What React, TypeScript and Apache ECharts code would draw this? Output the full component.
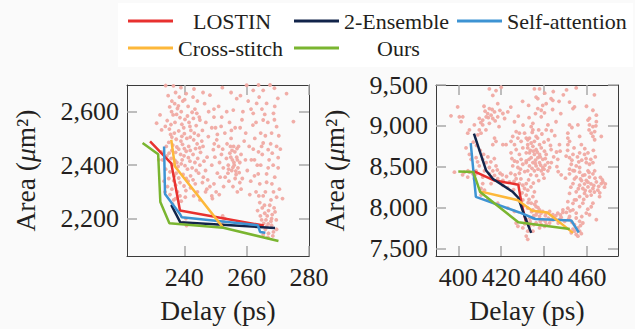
import React, { useEffect, useRef } from "react";
import * as echarts from "echarts";

const seriesNames = ["LOSTIN", "2-Ensemble", "Self-attention", "Cross-stitch", "Ours"];
const seriesColors = ["#e8312f", "#12244a", "#3d93d3", "#fdb83a", "#7ab530"];

// Left panel
const leftXTicks = [240, 260, 280];
const leftYTicks = [2200, 2400, 2600];
const leftLines: number[][][] = [
  [[229.0, 2489], [235.8, 2407], [238.6, 2230], [265.5, 2174]],
  [[235.8, 2251], [238.7, 2186], [269.1, 2165]],
  [[233.5, 2470], [233.8, 2292], [238.7, 2215], [239.2, 2205], [263.6, 2175], [264.3, 2150], [266.0, 2147]],
  [[235.8, 2495], [237.0, 2395], [252.3, 2168]],
  [[226.6, 2483], [231.6, 2441], [232.3, 2262], [235.2, 2183], [252.5, 2166], [270.2, 2116]],
];
const leftScatter: number[][] = [
  [234.0, 2698], [236.5, 2697], [237.2, 2672], [238.4, 2655], [239.5, 2640], [236.0, 2640], [240.6, 2668], [235.3, 2618],
  [237.8, 2612], [239.0, 2600], [241.2, 2620], [242.5, 2598], [244.0, 2594], [236.4, 2588], [238.6, 2578], [240.2, 2571],
  [232.2, 2588], [234.5, 2567], [237.0, 2560], [239.2, 2553], [241.5, 2560], [243.8, 2548], [245.0, 2569], [231.1, 2557],
  [232.7, 2532], [235.2, 2535], [236.8, 2520], [238.2, 2528], [240.0, 2518], [242.1, 2530], [244.5, 2512], [236.0, 2505],
  [237.4, 2497], [238.9, 2490], [240.8, 2500], [243.0, 2495], [245.6, 2490], [235.0, 2485], [236.3, 2475], [237.6, 2468],
  [239.4, 2478], [241.4, 2470], [243.6, 2462], [236.0, 2455], [237.2, 2448], [238.8, 2440], [240.6, 2452], [242.8, 2440],
  [245.2, 2448], [234.4, 2435], [235.8, 2425], [237.0, 2418], [239.3, 2420], [241.8, 2415], [244.3, 2425], [236.3, 2402],
  [238.0, 2395], [240.2, 2398], [242.5, 2390], [245.0, 2400], [234.0, 2385], [235.4, 2375], [237.4, 2370], [239.6, 2365],
  [242.0, 2360], [244.6, 2370], [235.0, 2350], [236.6, 2342], [238.6, 2335], [241.2, 2340], [243.5, 2330], [234.6, 2320],
  [236.0, 2310], [237.8, 2300], [240.5, 2305], [235.4, 2290], [237.2, 2275], [239.0, 2265], [236.2, 2255], [233.0, 2420],
  [232.6, 2450],
  [248.2, 2662], [246.5, 2630], [247.8, 2600], [249.5, 2580], [251.0, 2620], [253.6, 2600], [255.7, 2606], [256.8, 2649],
  [260.0, 2699], [258.5, 2570], [247.7, 2507], [250.4, 2495], [249.3, 2458], [246.0, 2470], [247.3, 2430], [248.8, 2400],
  [246.8, 2380], [247.5, 2345], [249.5, 2330], [251.5, 2355], [252.5, 2390], [253.5, 2425], [252.3, 2460], [253.0, 2520],
  [251.8, 2545], [254.5, 2560], [256.3, 2540], [255.0, 2500], [255.8, 2470], [256.2, 2450], [256.8, 2430], [255.4, 2420],
  [256.0, 2400], [257.2, 2390], [255.2, 2380], [256.6, 2365], [257.8, 2410], [254.6, 2445], [257.4, 2470], [258.2, 2440],
  [254.3, 2340], [255.6, 2320], [257.0, 2300], [258.6, 2350], [259.2, 2490], [259.7, 2520], [251.2, 2290], [249.0, 2275],
  [252.3, 2210], [252.4, 2190], [252.2, 2175], [253.0, 2200],
  [262.1, 2680], [265.3, 2680], [266.4, 2631], [263.2, 2631], [262.1, 2594], [265.3, 2569], [268.6, 2594], [269.6, 2544],
  [268.0, 2520], [264.5, 2520], [265.3, 2483], [266.9, 2458], [269.6, 2470], [270.1, 2428], [268.5, 2400], [270.1, 2390],
  [266.4, 2367], [263.7, 2367], [264.2, 2330], [266.4, 2336], [268.6, 2300], [265.3, 2285], [264.2, 2260], [267.4, 2250],
  [269.1, 2225], [265.8, 2220], [268.0, 2200], [264.8, 2195], [266.9, 2180], [269.6, 2160], [268.6, 2150], [266.4, 2170],
  [265.3, 2140], [267.0, 2145], [263.5, 2230], [262.6, 2500], [263.8, 2450], [261.5, 2420], [262.0, 2550], [267.5, 2700],
  [270.0, 2650], [263.0, 2300], [261.3, 2340], [270.3, 2510], [269.0, 2355], [264.5, 2400],
  [271.5, 2275], [272.8, 2668], [275.0, 2563], [240.7, 2174], [239.6, 2185], [240.5, 2200], [231.8, 2420], [233.5, 2340],
  [233.8, 2300], [266.0, 2160], [268.0, 2175],
  [234.8, 2660], [236.9, 2630], [238.1, 2622], [240.1, 2645], [242.8, 2655], [243.4, 2610], [235.9, 2600], [237.5, 2590],
  [241.0, 2584], [242.9, 2575], [244.8, 2580], [233.9, 2545], [235.7, 2552], [239.8, 2540], [241.8, 2545], [243.2, 2520],
  [245.8, 2530], [235.6, 2515], [239.2, 2508], [241.9, 2505], [244.1, 2480], [234.2, 2470], [238.2, 2460], [240.0, 2462],
  [241.9, 2455], [244.9, 2465], [235.1, 2445], [239.9, 2435], [241.3, 2428], [243.4, 2410], [246.3, 2415], [237.6, 2410],
  [239.0, 2405], [241.0, 2385], [243.8, 2380], [236.8, 2360], [238.2, 2352], [240.6, 2350], [242.8, 2345], [237.2, 2325],
  [239.9, 2322], [242.0, 2315], [238.6, 2285], [240.3, 2280], [236.6, 2270], [254.8, 2470], [255.3, 2455], [256.9, 2462],
  [254.9, 2430], [255.9, 2410], [257.0, 2420], [254.1, 2400], [255.6, 2392], [256.5, 2378], [257.6, 2372], [254.0, 2370],
  [253.1, 2355], [256.3, 2350], [264.9, 2610], [266.8, 2560], [263.0, 2560], [267.7, 2480], [265.0, 2440], [267.2, 2420],
  [266.0, 2300], [267.8, 2270], [265.0, 2240], [266.6, 2210], [268.8, 2240], [266.2, 2195], [250.0, 2540], [249.8, 2430],
  [251.3, 2410], [250.6, 2370], [248.2, 2320], [246.8, 2300], [249.5, 2610], [252.0, 2580], [258.8, 2600], [260.8, 2470],
  [260.2, 2380], [261.0, 2290], [260.5, 2640], [262.5, 2420],
  [238.9, 2690], [243.1, 2685], [246.0, 2672], [252.2, 2690], [255.0, 2672], [258.0, 2660], [263.8, 2700], [268.9, 2688],
  [264.0, 2655], [269.0, 2620], [261.4, 2610], [244.2, 2640], [246.9, 2560], [248.8, 2540], [250.6, 2515], [245.8, 2335],
  [247.2, 2310], [248.8, 2285], [250.2, 2300], [252.6, 2320], [246.1, 2355], [244.2, 2300], [243.0, 2285], [245.0, 2270],
  [265.7, 2250], [267.0, 2230], [264.4, 2210], [268.2, 2215], [265.5, 2182], [267.8, 2190], [269.5, 2195], [268.4, 2135],
  [266.8, 2130], [263.9, 2285], [269.6, 2280], [270.5, 2310], [268.1, 2330], [262.5, 2360], [266.9, 2390], [263.4, 2400],
  [264.8, 2470], [262.1, 2460], [268.2, 2445], [270.8, 2460], [266.0, 2510], [268.9, 2570], [265.8, 2590], [255.1, 2530],
  [257.9, 2540], [253.7, 2480], [251.0, 2470], [249.6, 2480], [251.9, 2440], [254.2, 2385], [257.8, 2335], [259.6, 2420],
  [258.2, 2310],
];

// Right panel
const rightXTicks = [400, 420, 440, 460];
const rightYTicks = [7500, 8000, 8500, 9000, 9500];
const rightLines: number[][][] = [
  [[407.2, 8445], [416.4, 8335], [428.0, 8280], [429.5, 8050], [431.5, 7830]],
  [[407.3, 8905], [413.0, 8453], [416.2, 8350], [425.5, 8190], [428.0, 8120], [431.0, 7890], [434.0, 7690]],
  [[405.8, 8788], [408.2, 8130], [428.5, 7940], [436.0, 7860], [452.7, 7843], [456.2, 7695]],
  [[410.6, 8195], [427.8, 8090], [434.5, 7960], [441.5, 7940], [453.5, 7690]],
  [[400.0, 8440], [407.0, 8436], [410.2, 8190], [428.0, 7820], [452.0, 7738]],
];
const rightScatter: number[][] = [
  [414.5, 9452], [417.6, 9432], [420.0, 9472], [416.1, 9372], [399.7, 9231], [396.6, 9123], [400.5, 9111], [402.1, 9111],
  [401.3, 9051], [414.5, 9211], [418.4, 9271], [413.7, 9150], [415.3, 9130], [416.9, 9171], [413.0, 9110], [416.1, 9090],
  [418.4, 9111], [420.8, 9151], [423.1, 9171], [411.4, 9071], [414.5, 9031], [409.8, 9091], [407.5, 9011], [411.4, 9011],
  [409.8, 8950], [410.6, 8910], [409.1, 8890], [412.9, 8950], [405.2, 8950], [404.4, 8910], [416.9, 8850], [417.6, 8810],
  [416.1, 8770], [420.8, 8770], [422.3, 8770],
  [427.0, 8930], [428.5, 8910], [427.8, 8850], [425.4, 8870], [424.6, 8810], [426.2, 8770], [429.3, 8810], [430.9, 8910],
  [431.7, 8850], [432.4, 8770], [430.1, 8730], [427.0, 8710], [424.6, 8670], [428.5, 8650], [431.7, 8670], [429.3, 8590],
  [426.2, 8570], [425.4, 8510], [430.1, 8530], [431.7, 8550], [427.8, 8490],
  [403.6, 8730], [405.2, 8650], [406.0, 8590], [408.3, 8610], [411.4, 8590], [413.0, 8550], [409.8, 8510], [414.5, 8490],
  [416.1, 8450], [417.6, 8510], [412.2, 8450], [408.3, 8450],
  [435.5, 9452], [437.9, 9452], [455.0, 9464], [436.3, 9352], [437.1, 9332], [443.3, 9332], [444.1, 9312], [441.0, 9271],
  [439.4, 9251], [437.1, 9211], [438.7, 9191], [440.2, 9159], [438.7, 9111], [451.9, 9291], [454.2, 9231], [453.5, 9211],
  [462.8, 9191], [464.4, 9131], [461.2, 9091], [460.5, 9071], [464.4, 9051], [461.2, 9011], [462.8, 8990], [463.6, 8930],
  [462.0, 8910], [462.8, 8870], [463.6, 8830], [466.7, 8870], [434.8, 9031], [434.0, 8990], [434.8, 8950], [441.8, 9011],
  [436.3, 8870], [433.2, 8850], [451.9, 9011], [455.8, 9011], [451.1, 8910], [451.1, 8850], [451.9, 8810], [451.1, 8770],
  [456.6, 8870], [457.4, 8770], [447.2, 8770], [460.5, 8670], [458.9, 8650], [456.6, 8670], [450.3, 8630], [451.9, 8610],
  [453.5, 8650], [459.7, 8550], [462.8, 8550], [461.2, 8530], [452.7, 8530], [455.0, 8510], [456.6, 8490], [451.9, 8470],
  [454.2, 8450], [460.5, 8450], [463.6, 8450],
  [432.4, 8830], [434.0, 8790], [435.5, 8810], [437.9, 8770], [434.8, 8750], [432.4, 8730], [436.3, 8710], [438.7, 8730],
  [440.2, 8690], [433.2, 8670], [435.5, 8650], [437.9, 8650], [441.0, 8650], [434.0, 8610], [437.1, 8610], [439.4, 8590],
  [431.7, 8570], [434.8, 8550], [437.9, 8550], [441.8, 8550], [433.2, 8510], [436.3, 8510], [439.4, 8490], [442.6, 8490],
  [432.4, 8450], [435.5, 8450], [438.7, 8450], [441.8, 8450], [446.4, 8590], [443.3, 8710],
  [398.2, 8433], [402.8, 8433], [404.4, 8373], [408.3, 8413], [411.4, 8373], [411.4, 8293], [410.6, 8233], [412.2, 8213],
  [414.5, 8413], [415.3, 8373], [416.9, 8393], [418.4, 8353], [420.8, 8333], [415.3, 8293], [420.8, 8273], [423.9, 8313],
  [427.0, 8353], [428.5, 8293], [430.1, 8273], [431.7, 8293], [430.9, 8233], [432.4, 8213], [433.9, 8253], [435.5, 8193],
  [431.7, 8153], [434.8, 8133], [430.1, 8093], [434.0, 8053], [436.3, 8073], [430.1, 8012], [432.4, 7992], [434.8, 7972],
  [436.3, 8012], [437.9, 7972], [439.4, 7952], [441.0, 7932], [442.6, 7952], [444.1, 7912], [446.4, 7932], [448.8, 7940],
  [436.3, 7912], [437.9, 7892], [434.8, 7872], [431.7, 7852], [439.4, 7852], [443.3, 7851], [442.6, 7811], [441.0, 7791],
  [436.3, 7811], [433.2, 7771], [437.9, 7751], [434.8, 7711], [427.0, 7811], [427.8, 7771], [430.1, 7751], [432.4, 7711],
  [431.7, 7651], [432.4, 7611],
  [448.8, 7972], [451.1, 7992], [453.5, 7972], [455.0, 7932], [451.9, 7892], [455.0, 7872], [456.6, 7832], [454.2, 7791],
  [455.8, 7751], [454.2, 7711], [452.7, 7691], [455.0, 7671], [456.6, 7711], [458.1, 7811], [459.7, 7932], [464.4, 7851],
  [461.2, 7912], [453.5, 8052], [451.1, 8072], [455.0, 8093], [456.6, 8133],
  [451.9, 8413], [453.5, 8453], [455.0, 8373], [456.6, 8433], [458.1, 8393], [459.7, 8333], [461.2, 8373], [462.8, 8413],
  [464.4, 8313], [466.7, 8293], [467.5, 8313], [453.5, 8293], [456.6, 8273], [458.1, 8233], [460.5, 8253], [462.8, 8233],
  [465.1, 8213], [455.0, 8193], [458.9, 8173], [462.0, 8153], [465.9, 8133], [451.9, 8173], [454.2, 8093], [458.1, 8053],
  [456.6, 8012], [462.8, 8053],
  [405.2, 8433], [406.8, 8413], [407.5, 8353], [410.6, 8153], [413.7, 8093], [418.4, 8053], [423.1, 7992], [426.2, 7952],
  [444.9, 7871], [447.2, 7851], [449.6, 7831], [438.7, 7792], [440.2, 7771], [453.5, 7736], [457.4, 7680], [455.8, 7650],
  [412.5, 9180], [414.0, 9100], [415.8, 9200], [417.2, 9060], [419.4, 9190], [412.0, 9240], [410.5, 9040], [419.0, 8990],
  [421.6, 9090], [433.6, 8700], [435.0, 8690], [436.8, 8680], [438.2, 8620], [440.6, 8600], [436.0, 8580], [433.0, 8590],
  [435.9, 8540], [438.4, 8520], [440.5, 8520], [434.4, 8480], [437.2, 8470], [440.0, 8470], [443.4, 8550], [444.5, 8620],
  [445.8, 8680], [443.0, 8760], [440.0, 8800], [437.0, 8850], [439.0, 8900], [442.0, 8830], [445.0, 8880], [447.5, 8690],
  [446.0, 8500], [457.5, 8330], [458.9, 8290], [460.5, 8310], [461.9, 8290], [463.2, 8270], [457.0, 8350], [459.2, 8210],
  [461.5, 8200], [463.8, 8360], [465.5, 8260], [466.3, 8370], [468.2, 8250], [456.0, 8230], [454.2, 8350], [452.5, 8250],
  [420.5, 8400], [422.5, 8380], [424.5, 8420], [426.5, 8400], [428.5, 8420], [423.0, 8240], [425.8, 8220], [433.0, 8100],
  [435.6, 8040], [437.2, 8000], [438.6, 7930], [440.6, 7900], [442.0, 7870], [445.5, 7900], [447.6, 7910], [450.4, 7940],
  [433.5, 7830], [435.2, 7790], [431.0, 7800], [461.8, 8590], [463.9, 8620], [459.0, 8720], [453.0, 8980], [461.0, 8950],
  [464.2, 9000], [459.8, 9240], [463.5, 9380], [450.5, 9440], [444.3, 9420], [440.3, 9400], [447.8, 9150], [445.6, 9050],
  [430.2, 9010], [426.2, 9050], [428.0, 9120], [424.5, 9230], [430.0, 9300], [432.8, 9250],
  [407.0, 8800], [408.5, 8760], [410.2, 8700], [411.8, 8650], [409.0, 8560], [415.2, 8560], [413.8, 8620], [416.8, 8600],
  [418.2, 8460], [419.5, 8420], [404.5, 8450], [402.0, 8400], [425.0, 8600], [427.5, 8560], [429.0, 8470], [431.0, 8440],
  [433.8, 8400], [436.5, 8390], [439.5, 8410], [426.0, 8320], [429.2, 8350], [432.8, 8340], [435.0, 8300], [437.5, 8330],
  [440.0, 8360], [429.8, 8180], [432.6, 8060], [434.2, 7950], [436.8, 7940], [435.2, 7900], [433.4, 7870], [438.2, 7830],
  [440.6, 7830], [444.2, 7850], [446.6, 7810], [448.0, 7880], [451.5, 7860], [453.0, 7820], [457.0, 7780], [452.2, 7960],
  [457.6, 7890], [460.4, 7980], [462.0, 8010], [458.5, 8100], [460.0, 8140], [463.5, 8190], [466.0, 8180], [467.2, 8340],
  [468.6, 8290], [459.0, 8400], [461.0, 8430], [457.6, 8580], [459.6, 8600], [455.6, 8620], [453.0, 8580], [456.2, 8560],
  [451.0, 8700], [454.0, 8730], [463.0, 8700], [446.6, 8440], [448.0, 8400], [450.0, 8360], [434.5, 8920], [437.5, 8950],
  [441.0, 8950], [443.5, 8940], [433.0, 9100], [436.0, 9150], [444.0, 9200], [447.0, 9300], [449.0, 9380],
];

const FONT = "Liberation Serif";
const TEXT = "#231f20";
const FRAME = "#3a3a3a";
const TICK = "#a8a8a8";
const DOT = "#f0a9a2";

function fmt(v: number) {
  return v.toLocaleString("en-US");
}

const labelRich = {
  t: { fontFamily: FONT, fontSize: 26, color: TEXT },
};
const nameRich = {
  n: { fontFamily: FONT, fontSize: 27.5, color: TEXT },
  i: { fontFamily: FONT, fontSize: 27.5, fontStyle: "italic", color: TEXT },
};

function xAxes(gridIndex: number, min: number, max: number, ticks: number[]) {
  const common = {
    type: "value",
    gridIndex,
    min,
    max,
    splitLine: { show: false },
    axisLine: { show: true, onZero: false, lineStyle: { color: FRAME, width: 1 } },
    axisTick: { show: true, inside: true, length: 10, customValues: ticks, lineStyle: { color: TICK, width: 1.5 } },
  };
  return [
    {
      ...common,
      position: "bottom",
      name: "{n|Delay (ps)}",
      nameLocation: "middle",
      nameGap: 40,
      nameTextStyle: { fontFamily: FONT, fontSize: 27.5, color: TEXT, rich: nameRich },
      axisLabel: {
        show: true,
        customValues: ticks,
        margin: 8,
        fontFamily: FONT,
        fontSize: 26,
        color: TEXT,
        rich: labelRich,
        formatter: (v: number) => `{t|${fmt(v)}}`,
      },
    },
    { ...common, position: "top", axisLabel: { show: false } },
  ];
}

function yAxes(gridIndex: number, min: number, max: number, ticks: number[]) {
  const common = {
    type: "value",
    gridIndex,
    min,
    max,
    splitLine: { show: false },
    axisLine: { show: true, onZero: false, lineStyle: { color: FRAME, width: 1 } },
    axisTick: { show: true, inside: true, length: 10, customValues: ticks, lineStyle: { color: TICK, width: 1.5 } },
  };
  return [
    {
      ...common,
      position: "left",
      name: "{n|Area (}{i|μ}{n|m²)}",
      nameLocation: "middle",
      nameGap: 88,
      nameTextStyle: { fontFamily: FONT, fontSize: 27.5, color: TEXT, rich: nameRich },
      axisLabel: {
        show: true,
        customValues: ticks,
        margin: 8,
        fontFamily: FONT,
        fontSize: 26,
        color: TEXT,
        rich: labelRich,
        formatter: (v: number) => `{t|${fmt(v)}}`,
      },
    },
    { ...common, position: "right", axisLabel: { show: false } },
  ];
}

function legendItem(name: string, left: number, top: number, padLeft: number) {
  return {
    show: true,
    data: [name],
    left,
    top,
    padding: 0,
    icon: "rect",
    itemWidth: 45,
    itemHeight: 3,
    selectedMode: false,
    textStyle: { fontFamily: FONT, fontSize: 22, color: TEXT, padding: [0, 0, 0, padLeft] },
  };
}

export default function App() {
  const ref = useRef<HTMLDivElement>(null);
  useEffect(() => {
    if (!ref.current) return;
    const chart = echarts.init(ref.current, undefined, { renderer: "svg" });
    const lineSeries = (lines: number[][][], xi: number, yi: number) =>
      lines.map((d, i) => ({
        type: "line",
        name: seriesNames[i],
        xAxisIndex: xi,
        yAxisIndex: yi,
        data: d,
        symbol: "none",
        color: seriesColors[i],
        lineStyle: { color: seriesColors[i], width: 2.5 },
        z: 3,
      }));
    const scatter = (d: number[][], xi: number, yi: number) => ({
      type: "scatter",
      name: "samples",
      xAxisIndex: xi,
      yAxisIndex: yi,
      data: d,
      symbolSize: 3.8,
      itemStyle: { color: DOT, opacity: 0.95 },
      z: 2,
      silent: true,
    });
    chart.setOption({
      animation: false,
      backgroundColor: "#fafafa",
      textStyle: { fontFamily: FONT },
      graphic: [
        { type: "rect", shape: { x: 118, y: 3, width: 515, height: 64 }, style: { fill: "#ffffff" }, z: -1 },
      ],
      legend: [
        legendItem("LOSTIN", 128, 10, 15),
        legendItem("2-Ensemble", 294, 10, 0),
        legendItem("Self-attention", 457, 10, 0),
        legendItem("Cross-stitch", 128, 37, 0),
        legendItem("Ours", 294, 37, 33),
      ],
      grid: [
        { left: 127, top: 85, width: 182, height: 173, containLabel: false },
        { left: 436, top: 85, width: 182, height: 173, containLabel: false },
      ],
      xAxis: [...xAxes(0, 221.6, 280, leftXTicks), ...xAxes(1, 389.6, 474.5, rightXTicks)],
      yAxis: [...yAxes(0, 2060, 2700, leftYTicks), ...yAxes(1, 7407, 9500, rightYTicks)],
      series: [
        scatter(leftScatter, 0, 0),
        ...lineSeries(leftLines, 0, 0),
        scatter(rightScatter, 2, 2),
        ...lineSeries(rightLines, 2, 2),
      ],
    });
    return () => chart.dispose();
  }, []);
  return (
    <div
      ref={ref}
      style={{ position: "fixed", left: 0, top: 0, width: 635, height: 329, background: "#fafafa" }}
    />
  );
}
